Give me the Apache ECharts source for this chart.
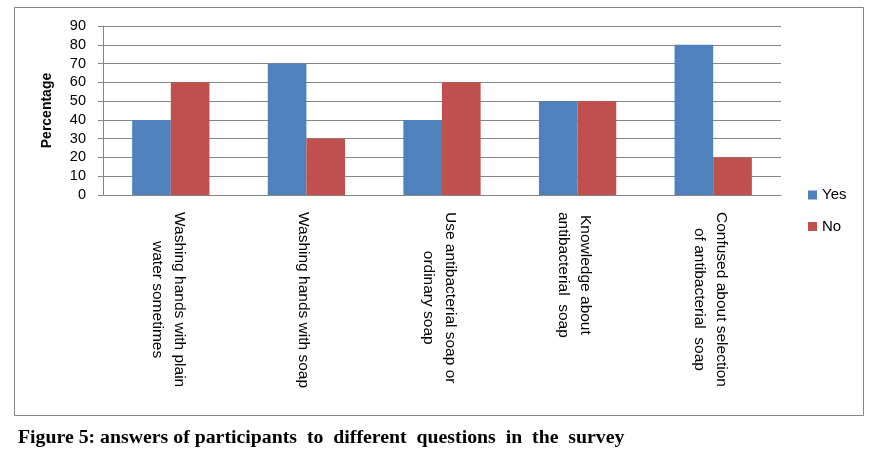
<!DOCTYPE html>
<html>
<head>
<meta charset="utf-8">
<script src="https://cdn.jsdelivr.net/npm/echarts@6/dist/echarts.min.js"></script>
<style>
  html, body { margin: 0; padding: 0; background: #fff; }
  #chart { width: 881px; height: 464px; }
</style>
</head>
<body>
<div id="chart"></div>
<script>
// questions asked in the survey (line breaks as in the original chart)
const categories = [
  'Washing hands with plain\nwater sometimes',
  'Washing hands with soap',
  'Use antibacterial soap or\nordinary soap',
  'Knowledge about\nantibacterial  soap',
  'Confused about selection\nof antibacterial  soap'
];
const yesValues = [40, 70, 40, 50, 80];
const noValues = [60, 30, 60, 50, 20];
const yTicks = { min: 0, max: 90, interval: 10 };

const chart = echarts.init(document.getElementById('chart'));

const gray = '#868686';
const sans = '"Liberation Sans", Arial, sans-serif';

const option = {
  animation: false,
  textStyle: { fontFamily: sans },
  grid: { left: 103, right: 100, top: 26, bottom: 269, containLabel: false },
  legend: {
    orient: 'vertical',
    left: 803,
    top: 182,
    icon: 'rect',
    itemWidth: 9,
    itemHeight: 9,
    itemGap: 15.5,
    textStyle: { fontSize: 15, color: '#000', fontFamily: sans, lineHeight: 16 },
    data: ['Yes', 'No']
  },
  xAxis: {
    type: 'category',
    data: categories,
    axisLine: { lineStyle: { color: gray, width: 1 } },
    axisTick: { show: false },
    axisLabel: {
      rotate: -90,
      margin: 17,
      interval: 0,
      padding: [6, 0, 0, 0],
      formatter: function (v) {
        return v.split('\n').map(function (s) { return '{c|' + s + '}'; }).join('\n');
      },
      rich: {
        c: { align: 'center', fontSize: 15.5, lineHeight: 22, color: '#000', fontFamily: sans }
      }
    }
  },
  yAxis: {
    type: 'value',
    min: yTicks.min,
    max: yTicks.max,
    interval: yTicks.interval,
    name: 'Percentage',
    nameLocation: 'middle',
    nameGap: 49,
    nameRotate: 90,
    nameTextStyle: { fontSize: 14, fontWeight: 'bold', color: '#000', fontFamily: sans },
    axisLine: { show: true, lineStyle: { color: gray, width: 1 } },
    axisTick: { show: true, length: 5, lineStyle: { color: gray } },
    axisLabel: { fontSize: 14.5, color: '#000', margin: 17, fontFamily: sans },
    splitLine: { show: true, lineStyle: { color: gray, width: 1 } }
  },
  series: [
    {
      name: 'Yes',
      type: 'bar',
      data: yesValues,
      itemStyle: { color: '#4F81BD' },
      barGap: '0%',
      barCategoryGap: '43%'
    },
    {
      name: 'No',
      type: 'bar',
      data: noValues,
      itemStyle: { color: '#C0504D' },
      barGap: '0%',
      barCategoryGap: '43%'
    }
  ],
  graphic: [
    {
      type: 'rect',
      shape: { x: 14.5, y: 7.5, width: 849, height: 408 },
      style: { fill: 'none', stroke: gray, lineWidth: 1 },
      silent: true,
      z: -1
    },
    {
      type: 'text',
      x: 18,
      y: 438,
      scaleX: 1.1,
      style: {
        text: 'Figure 5: answers of participants  to  different  questions  in  the  survey',
        fontFamily: '"Liberation Serif", "DejaVu Serif", serif',
        fontWeight: 'bold',
        fontSize: 18,
        verticalAlign: 'middle',
        fill: '#000'
      }
    }
  ]
};

chart.setOption(option);
</script>
</body>
</html>
